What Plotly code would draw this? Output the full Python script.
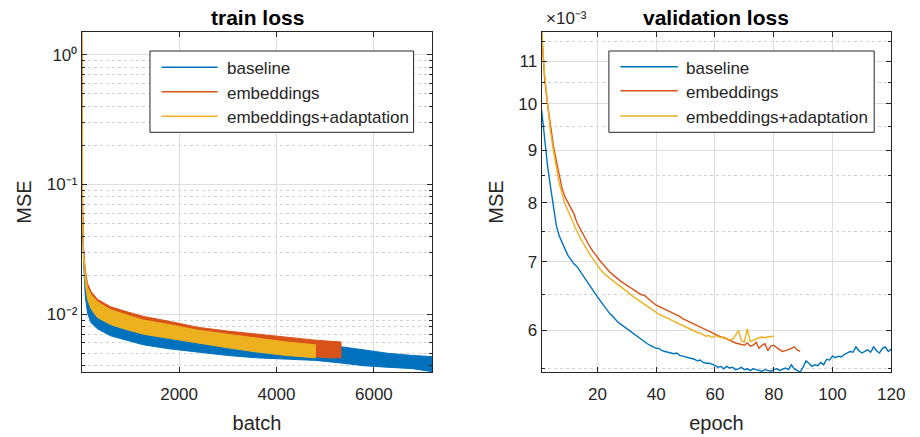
import math
import plotly.graph_objects as go

W, H = 920, 437

NAMES = ["baseline", "embeddings", "embeddings+adaptation"]
COLORS = ["#0072BD", "#D95319", "#EDB120"]

# ---- train loss: per-batch MSE band (lower / upper envelope of the noisy curve)
base_batch = [1, 8, 20, 40, 75, 120, 190, 324, 594, 865, 1265, 1800, 2400,
              3000, 3600, 4200, 4800, 5325, 5800, 6267, 6800, 7200]
base_upper = [1.0, 0.24, 0.052, 0.027, 0.018, 0.0140, 0.0125, 0.0105, 0.0094,
              0.0088, 0.0080, 0.0073, 0.0067, 0.0063, 0.0060, 0.0058, 0.0057,
              0.0056, 0.0053, 0.0050, 0.0048, 0.0047]
base_lower = [1.0, 0.22, 0.048, 0.024, 0.0135, 0.0102, 0.0086, 0.0077, 0.0068,
              0.0064, 0.0058, 0.0054, 0.0051, 0.0048, 0.0046, 0.0045, 0.0044,
              0.0042, 0.0040, 0.0039, 0.0038, 0.0036]

emb_batch = [1, 8, 20, 40, 75, 120, 190, 324, 594, 865, 1265, 1800, 2400,
             3000, 3600, 4200, 4800, 5050, 5325]
emb_upper = [1.5, 0.32, 0.065, 0.032, 0.022, 0.0172, 0.0150, 0.0130, 0.0114,
             0.0106, 0.0096, 0.0088, 0.0079, 0.0074, 0.0070, 0.0066, 0.0063,
             0.0062, 0.0061]
emb_lower = [1.5, 0.27, 0.055, 0.028, 0.019, 0.0145, 0.0120, 0.0100, 0.0088,
             0.0082, 0.0074, 0.0068, 0.0062, 0.0057, 0.0053, 0.0049, 0.0047,
             0.0046, 0.0046]

ada_batch = [1, 8, 20, 40, 75, 120, 190, 324, 594, 865, 1265, 1800, 2400,
             3000, 3600, 4200, 4800]
ada_upper = [1.45, 0.30, 0.060, 0.030, 0.0205, 0.0160, 0.0142, 0.0124, 0.0108,
             0.0100, 0.0090, 0.0083, 0.0075, 0.0070, 0.0065, 0.0061, 0.0058]
ada_lower = [1.45, 0.25, 0.050, 0.026, 0.0170, 0.0130, 0.0110, 0.0094, 0.0083,
             0.0077, 0.0070, 0.0065, 0.0060, 0.0055, 0.0051, 0.0048, 0.0046]

# ---- validation loss per epoch, in units of 1e-3
val_base_e3 = [
    9.86, 9.20, 8.70, 8.30, 7.90, 7.60, 7.42, 7.30, 7.20, 7.10,
    7.03, 6.97, 6.93, 6.86, 6.80, 6.73, 6.66, 6.60, 6.53, 6.47,
    6.41, 6.35, 6.30, 6.24, 6.20, 6.15, 6.11, 6.08, 6.05, 6.02,
    5.99, 5.96, 5.93, 5.91, 5.88, 5.85, 5.82, 5.80, 5.78, 5.76,
    5.76, 5.73, 5.72, 5.71, 5.70, 5.69, 5.70, 5.67, 5.66, 5.65,
    5.64, 5.63, 5.62, 5.60, 5.61, 5.58, 5.57, 5.57, 5.56, 5.54,
    5.52, 5.53, 5.50, 5.53, 5.51, 5.52, 5.49, 5.50, 5.52, 5.49,
    5.50, 5.48, 5.50, 5.49, 5.48, 5.47, 5.49, 5.48, 5.47, 5.49,
    5.50, 5.48, 5.50, 5.51, 5.49, 5.55, 5.50, 5.48, 5.46, 5.52,
    5.60, 5.57, 5.53, 5.55, 5.54, 5.58, 5.55, 5.62, 5.61, 5.66,
    5.64, 5.66, 5.65, 5.68, 5.70, 5.72, 5.71, 5.78, 5.73, 5.70,
    5.72, 5.74, 5.71, 5.78, 5.73, 5.70, 5.76, 5.78, 5.72, 5.75,
]
val_emb_e3 = [
    11.76, 10.60, 10.00, 9.50, 9.10, 8.80, 8.50, 8.25, 8.10, 8.00,
    7.90, 7.80, 7.65, 7.55, 7.45, 7.36, 7.28, 7.20, 7.13, 7.07,
    7.01, 6.96, 6.90, 6.85, 6.81, 6.77, 6.73, 6.70, 6.67, 6.64,
    6.61, 6.58, 6.56, 6.52, 6.50, 6.49, 6.45, 6.42, 6.38, 6.35,
    6.33, 6.31, 6.29, 6.26, 6.25, 6.23, 6.21, 6.19, 6.16, 6.14,
    6.12, 6.10, 6.08, 6.06, 6.04, 6.02, 6.00, 5.98, 5.96, 5.94,
    5.93, 5.91, 5.90, 5.88, 5.86, 5.84, 5.83, 5.82, 5.81, 5.80,
    5.83, 5.79, 5.80, 5.84, 5.76, 5.80, 5.82, 5.73, 5.79, 5.80,
    5.77, 5.74, 5.72, 5.73, 5.74, 5.76, 5.78, 5.74, 5.72,
]
val_ada_e3 = [
    11.76, 10.70, 10.00, 9.40, 9.00, 8.65, 8.35, 8.15, 7.97, 7.85,
    7.72, 7.60, 7.50, 7.40, 7.31, 7.23, 7.15, 7.08, 7.01, 6.93,
    6.88, 6.83, 6.79, 6.75, 6.72, 6.68, 6.65, 6.62, 6.59, 6.55,
    6.51, 6.48, 6.45, 6.42, 6.39, 6.36, 6.33, 6.30, 6.27, 6.24,
    6.22, 6.20, 6.18, 6.16, 6.14, 6.12, 6.10, 6.08, 6.06, 6.04,
    6.02, 6.00, 5.99, 5.97, 5.96, 5.94, 5.92, 5.93, 5.90, 5.93,
    5.91, 5.90, 5.91, 5.89, 5.87, 5.88, 5.93, 6.00, 5.86, 5.84,
    6.02, 5.85, 5.87, 5.89, 5.90, 5.91, 5.90, 5.91, 5.92, 5.92,
]

train_series = [(base_batch, base_upper, base_lower),
                (emb_batch, emb_upper, emb_lower),
                (ada_batch, ada_upper, ada_lower)]
val_series = [val_base_e3, val_emb_e3, val_ada_e3]

FONT = "Liberation Sans, Arial, Helvetica, sans-serif"
INK = "#262626"


def fx(p):
    return p / W


def fy(p):
    return 1 - p / H


fig = go.Figure()

# noisy training curves drawn as filled bands
for (b, up, lo), name, col in zip(train_series, NAMES, COLORS):
    fig.add_trace(go.Scatter(
        x=b + b[::-1], y=up + lo[::-1], fill="toself", fillcolor=col,
        mode="lines", line=dict(color=col, width=1), name=name,
        xaxis="x", yaxis="y", hoverinfo="skip"))

# validation curves
for vals, name, col in zip(val_series, NAMES, COLORS):
    fig.add_trace(go.Scatter(
        x=list(range(1, len(vals) + 1)), y=vals, mode="lines",
        line=dict(color=col, width=1.4), name=name,
        xaxis="x2", yaxis="y2"))

axis_common = dict(
    showline=True, linecolor=INK, linewidth=1, mirror="allticks",
    ticks="inside", ticklen=5, tickcolor=INK, tickwidth=1,
    showgrid=True, gridcolor="#dedede", gridwidth=1, zeroline=False,
    tickfont=dict(family=FONT, size=17, color=INK),
)
xtitle_font = dict(family=FONT, size=20, color=INK)

left_minor = [k * 10.0 ** e for e in (-3, -2, -1) for k in range(2, 10)]
right_minor = [v + 0.5 for v in range(5, 12)]

fig.update_layout(
    width=W, height=H, margin=dict(l=0, r=0, t=0, b=0),
    paper_bgcolor="white", plot_bgcolor="white", showlegend=False,
    font=dict(family=FONT, color=INK, size=17),
    xaxis=dict(axis_common, domain=[fx(83), fx(439)], range=[1, 7200],
               tickvals=[2000, 4000, 6000], ticklabelstandoff=7,
               title=dict(text="batch", font=xtitle_font, standoff=12),
               anchor="y"),
    yaxis=dict(axis_common, domain=[fy(372), fy(32)], type="log",
               range=[math.log10(0.00358), math.log10(1.494)],
               tickvals=[0.01, 0.1, 1],
               ticktext=["10⁻²", "10⁻¹", "10⁰"],
               minor=dict(tickvals=left_minor, ticks="inside", ticklen=3,
                          tickcolor=INK, showgrid=True, gridcolor="#d2d2d2",
                          griddash="3px,3px"),
               title=dict(text="MSE", font=xtitle_font, standoff=9),
               anchor="x"),
    xaxis2=dict(axis_common, domain=[fx(550), fx(905)], range=[1, 120],
                tickvals=[20, 40, 60, 80, 100, 120], ticklabelstandoff=7,
                title=dict(text="epoch", font=xtitle_font, standoff=12),
                anchor="y2"),
    yaxis2=dict(axis_common, domain=[fy(372), fy(32)], type="log",
                range=[math.log10(5.461), math.log10(11.755)],
                tickvals=[6, 7, 8, 9, 10, 11],
                ticktext=["6", "7", "8", "9", "10", "11"],
                minor=dict(tickvals=right_minor, ticks="inside", ticklen=3,
                           tickcolor=INK, showgrid=True, gridcolor="#d2d2d2",
                           griddash="3px,3px"),
                title=dict(text="MSE", font=xtitle_font, standoff=9),
                anchor="x2"),
)

ann = []


def text(x, y, s, size=17, color=INK, bold=False, angle=0, xanchor="center"):
    ann.append(dict(
        x=fx(x), y=fy(y), xref="paper", yref="paper", showarrow=False,
        text=f"<b>{s}</b>" if bold else s, textangle=angle,
        xanchor=xanchor, yanchor="middle",
        font=dict(family=FONT, size=size, color=color)))


text(261, 17.5, "train loss", size=21, color="#000000", bold=True)
text(727.5, 17.5, "validation loss", size=21, color="#000000", bold=True)
text(552, 19, "×10⁻³", size=17, xanchor="left")

shapes = []
legend_boxes = [
    dict(box=(152.3, 51, 420, 132.3), line=(164, 221), tx=228,
         rows=(67.3, 91.7, 116.3)),
    dict(box=(618.3, 51, 887.7, 132.3), line=(630, 688.3), tx=695,
         rows=(66.7, 90.7, 116.0)),
]
for lg in legend_boxes:
    x0, y0, x1, y1 = lg["box"]
    shapes.append(dict(type="rect", xref="paper", yref="paper",
                       x0=fx(x0), x1=fx(x1), y0=fy(y1), y1=fy(y0),
                       line=dict(color=INK, width=1), fillcolor="white",
                       layer="above"))
    for name, col, ry in zip(NAMES, COLORS, lg["rows"]):
        shapes.append(dict(type="line", xref="paper", yref="paper",
                           x0=fx(lg["line"][0]), x1=fx(lg["line"][1]),
                           y0=fy(ry), y1=fy(ry),
                           line=dict(color=col, width=1.4), layer="above"))
        text(lg["tx"], ry + 1.5, name, size=17, xanchor="left")

fig.update_layout(annotations=ann, shapes=shapes)

fig.write_html("out.html")
